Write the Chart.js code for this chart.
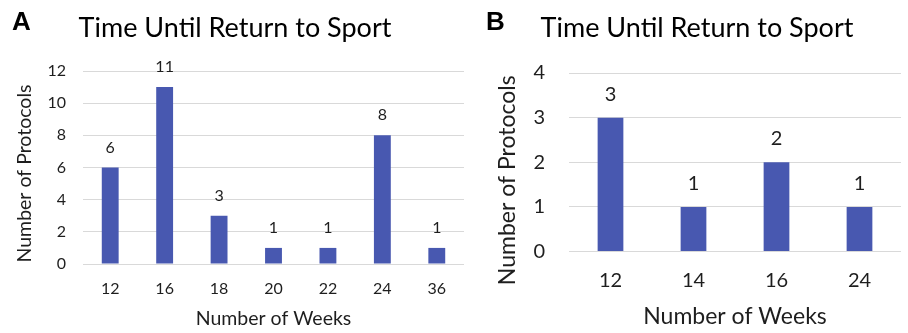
<!DOCTYPE html>
<html>
<head>
<meta charset="utf-8">
<script src="https://cdn.jsdelivr.net/npm/chart.js@4/dist/chart.umd.min.js"></script>
<style>
  html, body { margin: 0; padding: 0; background: #fff; }
  #wrap { position: relative; width: 908px; height: 333px; overflow: hidden; }
  .panel { position: absolute; top: 0; }
  .tag { position: absolute; font: bold 26px "Liberation Sans", Arial, sans-serif; color: #000; }
</style>
</head>
<body>
<div id="wrap">
  <canvas id="chartA" class="panel" style="left:0" width="470" height="333"></canvas>
  <canvas id="chartB" class="panel" style="left:470px" width="438" height="333"></canvas>
  <div class="tag" style="left:12px;top:6px">A</div>
  <div class="tag" style="left:486px;top:6px">B</div>
</div>
<script>
// Panel A: protocols by weeks until return to sport
const weeksA = ['12', '16', '18', '20', '22', '24', '36'];
const protocolsA = [6, 11, 3, 1, 1, 8, 1];
const yTicksA = [0, 2, 4, 6, 8, 10, 12];

// Panel B
const weeksB = ['12', '14', '16', '24'];
const protocolsB = [3, 1, 2, 1];
const yTicksB = [0, 1, 2, 3, 4];

const chartTitle = 'Time Until Return to Sport';
const xTitle = 'Number of Weeks';
const yTitle = 'Number of Protocols';

const BAR_COLOR = '#4858B0';
const TEXT = '#1e1e1e';
const GRID = '#d9d9d9';
const FAMILY = 'Lato, "Open Sans", sans-serif';

// Writes each bar's value above it
const valueLabels = {
  id: 'valueLabels',
  afterDatasetsDraw(chart, args, opts) {
    const ctx = chart.ctx;
    chart.data.datasets.forEach((ds, i) => {
      chart.getDatasetMeta(i).data.forEach((bar, j) => {
        ctx.save();
        ctx.font = `${opts.size}px ${FAMILY}`;
        ctx.fillStyle = TEXT;
        ctx.textAlign = 'center';
        ctx.textBaseline = 'middle';
        ctx.fillText(String(ds.data[j]), bar.x, bar.y - opts.offset);
        ctx.restore();
      });
    });
  }
};

function makeChart(id, labels, values, yTicks, s) {
  return new Chart(document.getElementById(id), {
    type: 'bar',
    data: {
      labels: labels,
      datasets: [{
        data: values,
        backgroundColor: BAR_COLOR,
        borderWidth: 0,
        categoryPercentage: 1,
        barPercentage: s.barPct
      }]
    },
    plugins: [valueLabels],
    options: {
      responsive: false,
      animation: false,
      events: [],
      layout: { padding: { left: s.padLeft, right: s.padRight, top: 0, bottom: 0 } },
      plugins: {
        legend: { display: false },
        tooltip: { enabled: false },
        title: {
          display: true,
          text: chartTitle,
          color: '#000',
          font: { family: FAMILY, size: s.titleSize, weight: 'normal' },
          padding: { top: s.titleTop, bottom: s.titleBottom }
        },
        valueLabels: { size: s.valueSize, offset: s.valueOffset }
      },
      scales: {
        x: {
          grid: { display: false, drawTicks: false },
          border: { display: false },
          ticks: {
            color: TEXT,
            font: { family: FAMILY, size: s.tickSize },
            padding: s.xTickPad,
            maxRotation: 0,
            autoSkip: false
          },
          title: {
            display: true,
            text: xTitle,
            color: TEXT,
            font: { family: FAMILY, size: s.axisTitleSize },
            padding: { top: 0, bottom: s.xTitlePad }
          },
          afterFit(scale) { scale.height = s.xHeight; }
        },
        y: {
          min: yTicks[0],
          max: yTicks[yTicks.length - 1],
          afterBuildTicks(scale) { scale.ticks = yTicks.map(v => ({ value: v })); },
          grid: { color: GRID, lineWidth: 1, drawTicks: false },
          border: { display: false },
          ticks: {
            color: TEXT,
            font: { family: FAMILY, size: s.tickSize },
            padding: s.yTickPad
          },
          title: {
            display: true,
            text: yTitle,
            color: TEXT,
            font: { family: FAMILY, size: s.axisTitleSize },
            padding: { top: s.yTitlePad, bottom: 0 }
          },
          afterFit(scale) { scale.width = s.yWidth; },
          // the vertical title sits a little below the middle of the axis
          afterUpdate(scale) {
            if (scale._titleShifted) return;
            const drawTitle = scale.drawTitle.bind(scale);
            scale.drawTitle = function () {
              this.ctx.save();
              this.ctx.translate(0, s.yTitleShift);
              drawTitle();
              this.ctx.restore();
            };
            scale._titleShifted = true;
          }
        }
      }
    }
  });
}

makeChart('chartA', weeksA, protocolsA, yTicksA, {
  barPct: 0.31, padLeft: 6, padRight: 6,
  titleSize: 27, titleTop: 11.8, titleBottom: 26.8,
  valueSize: 16, valueOffset: 20,
  tickSize: 16, xTickPad: 15, yTickPad: 17,
  axisTitleSize: 19.5, xTitlePad: 2.3, yTitlePad: 7.3, yTitleShift: 6,
  xHeight: 69, yWidth: 77
});

makeChart('chartB', weeksB, protocolsB, yTicksB, {
  barPct: 0.31, padLeft: 23, padRight: 7,
  titleSize: 27, titleTop: 11.8, titleBottom: 28.8,
  valueSize: 20, valueOffset: 23.5,
  tickSize: 20, xTickPad: 17.5, yTickPad: 24,
  axisTitleSize: 23, xTitlePad: 2.2, yTitlePad: 1.2, yTitleShift: 18,
  xHeight: 81.5, yWidth: 76
});
</script>
</body>
</html>
